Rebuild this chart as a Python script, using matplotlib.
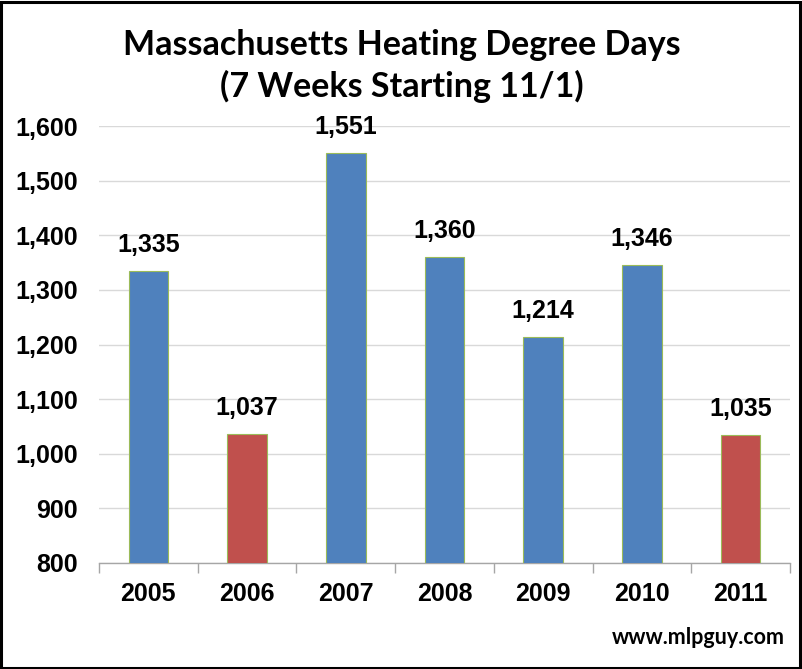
import matplotlib
matplotlib.use("Agg")
from matplotlib import pyplot as plt
from matplotlib.patches import Rectangle
from matplotlib.ticker import FuncFormatter, FixedLocator

years = ["2005", "2006", "2007", "2008", "2009", "2010", "2011"]
degree_days = [1335, 1037, 1551, 1360, 1214, 1346, 1035]
bar_colors = ["#4F81BD", "#C0504D", "#4F81BD", "#4F81BD", "#4F81BD", "#4F81BD", "#C0504D"]

fig = plt.figure(figsize=(8.03, 6.69), dpi=100)
ax = fig.add_axes([99 / 803, 1 - 563 / 669, 691 / 803, 437 / 669])

x = list(range(len(years)))
bars = ax.bar(x, degree_days, width=0.4, color=bar_colors,
              edgecolor="#9BBB59", linewidth=0.8, zorder=3)

ax.set_ylim(800, 1600)
ax.set_xlim(-0.5, len(years) - 0.5)
ax.set_yticks(range(800, 1601, 100))
ax.yaxis.set_major_formatter(FuncFormatter(lambda v, p: f"{int(v):,}"))
ax.grid(axis="y", color="#D9D9D9", linewidth=1, zorder=0)

ax.set_xticks(x)
ax.set_xticklabels(years)
ax.xaxis.set_minor_locator(FixedLocator([i - 0.5 for i in range(len(years) + 1)]))
ax.tick_params(axis="x", which="major", length=0, pad=14)
ax.tick_params(axis="x", which="minor", length=7, color="#A6A6A6", width=1)
ax.tick_params(axis="y", length=0, pad=15)

for lab in ax.get_xticklabels() + ax.get_yticklabels():
    lab.set_fontfamily("Liberation Sans")
    lab.set_fontweight("bold")
    lab.set_fontsize(18)

for s in ["top", "right", "left"]:
    ax.spines[s].set_visible(False)
ax.spines["bottom"].set_color("#A6A6A6")
ax.spines["bottom"].set_linewidth(1)

for bar, val in zip(bars, degree_days):
    ax.annotate(f"{val:,}", (bar.get_x() + bar.get_width() / 2, val),
                xytext=(0, 10), textcoords="offset points",
                ha="center", va="bottom", fontsize=18,
                fontweight="bold", family="Liberation Sans")

fig.text(0.5, 1 - 45 / 669, "Massachusetts Heating Degree Days",
         ha="center", va="center", fontsize=24.5, fontweight="bold", family="Lato")
fig.text(0.5, 1 - 86 / 669, "(7 Weeks Starting 11/1)",
         ha="center", va="center", fontsize=24.5, fontweight="bold", family="Lato")
fig.text(785 / 803, 1 - 638 / 669, "www.mlpguy.com",
         ha="right", va="center", fontsize=15.5, fontweight="bold", family="Lato")

fig.patches.append(Rectangle((1.5 / 803, 1.5 / 669), 799 / 803, 666 / 669,
                             transform=fig.transFigure, fill=False,
                             edgecolor="black", linewidth=2.2))

fig.savefig("out.png", dpi=100)
plt.close(fig)
